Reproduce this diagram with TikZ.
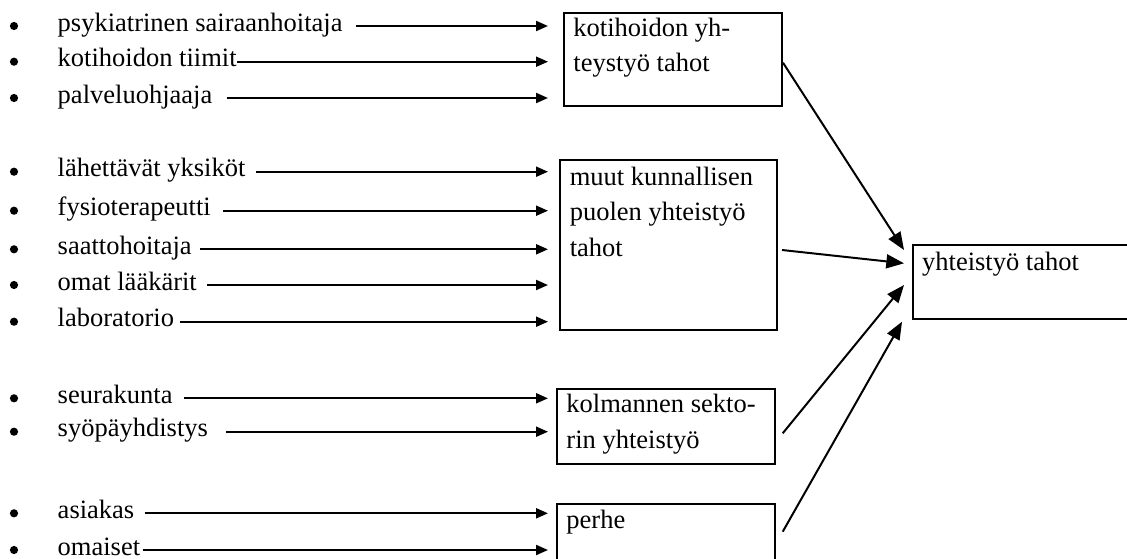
\documentclass[tikz,border=0pt]{standalone}
\usepackage{fontspec}
\setmainfont{Liberation Serif}
\usetikzlibrary{arrows.meta,fit,calc}
\def\px{0.4528pt}
\tikzset{
  box/.style={draw, line width=0.9pt, inner sep=0pt},
  boxtext/.style={anchor=base west, inner sep=0pt, align=left},
  item/.style={anchor=mid west, inner sep=0pt},
  bullet/.style={circle, fill, inner sep=0pt, minimum size=3.7pt},
  arr/.style={line width=0.9pt, -{Triangle[length=5.4pt,width=4.5pt]}},
  bigarr/.style={line width=0.9pt, -{Triangle[length=8pt,width=6.3pt]}}
}
\begin{document}
\begin{tikzpicture}[x=\px, y=-\px, font=\fontsize{12}{16}\selectfont]
 \clip (0,0) rectangle (1127,558);
 \coordinate (tip) at (548,0);
 \foreach \n/\y/\g/\t in {1/26/13/{psykiatrinen sairaanhoitaja}, 2/61.7/0/{kotihoidon tiimit},
   3/98/14/palveluohjaaja, 4/171.7/10/{lähettävät yksiköt}, 5/210.7/12/fysioterapeutti,
   6/249.3/8/saattohoitaja, 7/285/10/{omat lääkärit}, 8/321.7/6/laboratorio,
   9/398.3/11/seurakunta, 10/431.7/18/syöpäyhdistys, 11/513.3/10/asiakas, 12/550/2/omaiset}
 {
  \node[bullet] (b\n) at (14,\y) {};
  \node[item] (i\n) at (57.3,\y) {\t};
  \draw[arr] ([xshift=\g*\px]i\n.mid east) -- (i\n.mid east -| tip);
 }
 \node[box, fit={(564,12.7) (781.7,106)}] (koti) {};
 \node[box, fit={(560,160) (777.3,330)}] (kunta) {};
 \node[box, fit={(556.7,389.3) (775,464)}] (sektori) {};
 \node[box, fit={(556.7,504) (775,580)}] (perhe) {};
 \node[box, fit={(912.7,245) (1140,319.3)}] (yht) {};
 \node[boxtext] (kotit) at (573,71.7) {kotihoidon yh-\\teystyö tahot};
 \node[boxtext] (kuntat) at (569.3,256) {muut kunnallisen\\puolen yhteistyö\\tahot};
 \node[boxtext] (sektorit) at (566,448.3) {kolmannen sekto-\\rin yhteistyö};
 \node[boxtext] (perhet) at (566,528.3) {perhe};
 \node[boxtext] (yhtt) at (921.7,270) {yhteistyö tahot};
 \draw[bigarr] ($(koti.east)+(0.3,3.35)$) -- ($(yht.west)+(-7.7,-32.15)$);
 \draw[bigarr] ($(kunta.east)+(3.7,5)$) -- ($(yht.west)+(-7.7,-18.85)$);
 \draw[bigarr] ($(sektori.east)+(6.7,6.65)$) -- ($(yht.west)+(-7.7,2.85)$);
 \draw[bigarr] ($(perhe.east)+(6.7,-10.3)$) -- ($(yht.west)+(-9.7,39.55)$);
\end{tikzpicture}
\end{document}
